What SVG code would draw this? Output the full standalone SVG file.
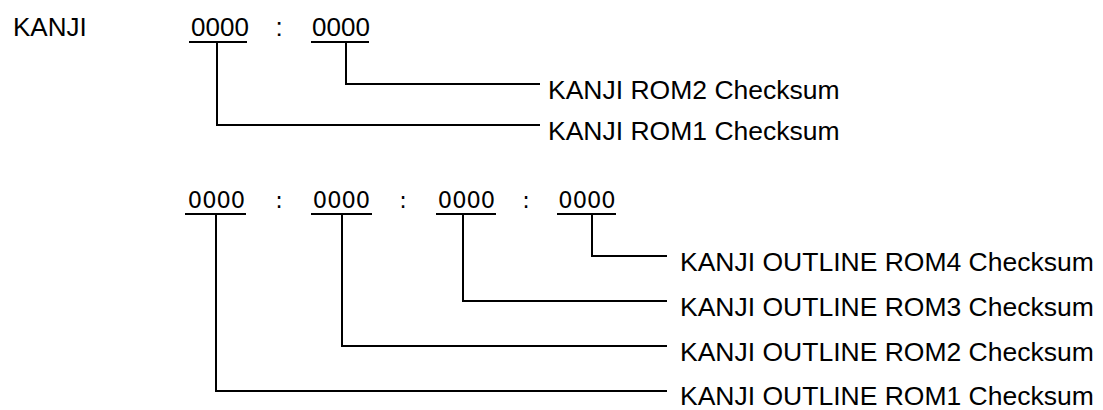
<svg xmlns="http://www.w3.org/2000/svg" width="1103" height="410" viewBox="0 0 1103 410">
<style>
.t{font-family:"Liberation Sans",Arial,sans-serif;font-size:26px;fill:#000}
.l{font-family:"Liberation Sans",Arial,sans-serif;font-size:26.5px;fill:#000}
.d{font-family:"DejaVu Sans",Verdana,sans-serif;font-size:22.5px;fill:#000}
.ln{fill:none;stroke:#000;stroke-width:2}
</style>
<rect width="1103" height="410" fill="#fff"/>
<g id="title"><text class="t" x="13" y="36">KANJI</text></g>
<g id="kanji-rom-fields">
<text class="t" x="220" y="36" text-anchor="middle">0000</text>
<text class="t" x="279" y="36" text-anchor="middle">:</text>
<text class="t" x="341" y="36" text-anchor="middle">0000</text>
<path class="ln" d="M189 42H247M311 42H369"/>
</g>
<g id="outline-rom-fields">
<text class="d" x="216.5" y="208" text-anchor="middle">0000</text>
<text class="d" x="279" y="208" text-anchor="middle">:</text>
<text class="d" x="341.5" y="208" text-anchor="middle">0000</text>
<text class="d" x="403" y="208" text-anchor="middle">:</text>
<text class="d" x="466.5" y="208" text-anchor="middle">0000</text>
<text class="d" x="526" y="208" text-anchor="middle">:</text>
<text class="d" x="587" y="208" text-anchor="middle">0000</text>
<path class="ln" d="M185 214H246M311 214H372M436 214H496M557 214H616"/>
</g>
<g id="connectors">
<path class="ln" d="M217 42V125H540"/>
<path class="ln" d="M346 42V84H540"/>
<path class="ln" d="M216 214V391H667"/>
<path class="ln" d="M342 214V346H667"/>
<path class="ln" d="M463 214V301H667"/>
<path class="ln" d="M592 214V256H667"/>
</g>
<g id="label-rom2"><text class="l" x="548" y="99">KANJI ROM2 Checksum</text></g>
<g id="label-rom1"><text class="l" x="548" y="140">KANJI ROM1 Checksum</text></g>
<g id="label-outline4"><text class="l" x="680" y="271">KANJI OUTLINE ROM4 Checksum</text></g>
<g id="label-outline3"><text class="l" x="680" y="316">KANJI OUTLINE ROM3 Checksum</text></g>
<g id="label-outline2"><text class="l" x="680" y="361">KANJI OUTLINE ROM2 Checksum</text></g>
<g id="label-outline1"><text class="l" x="680" y="405">KANJI OUTLINE ROM1 Checksum</text></g>
</svg>
